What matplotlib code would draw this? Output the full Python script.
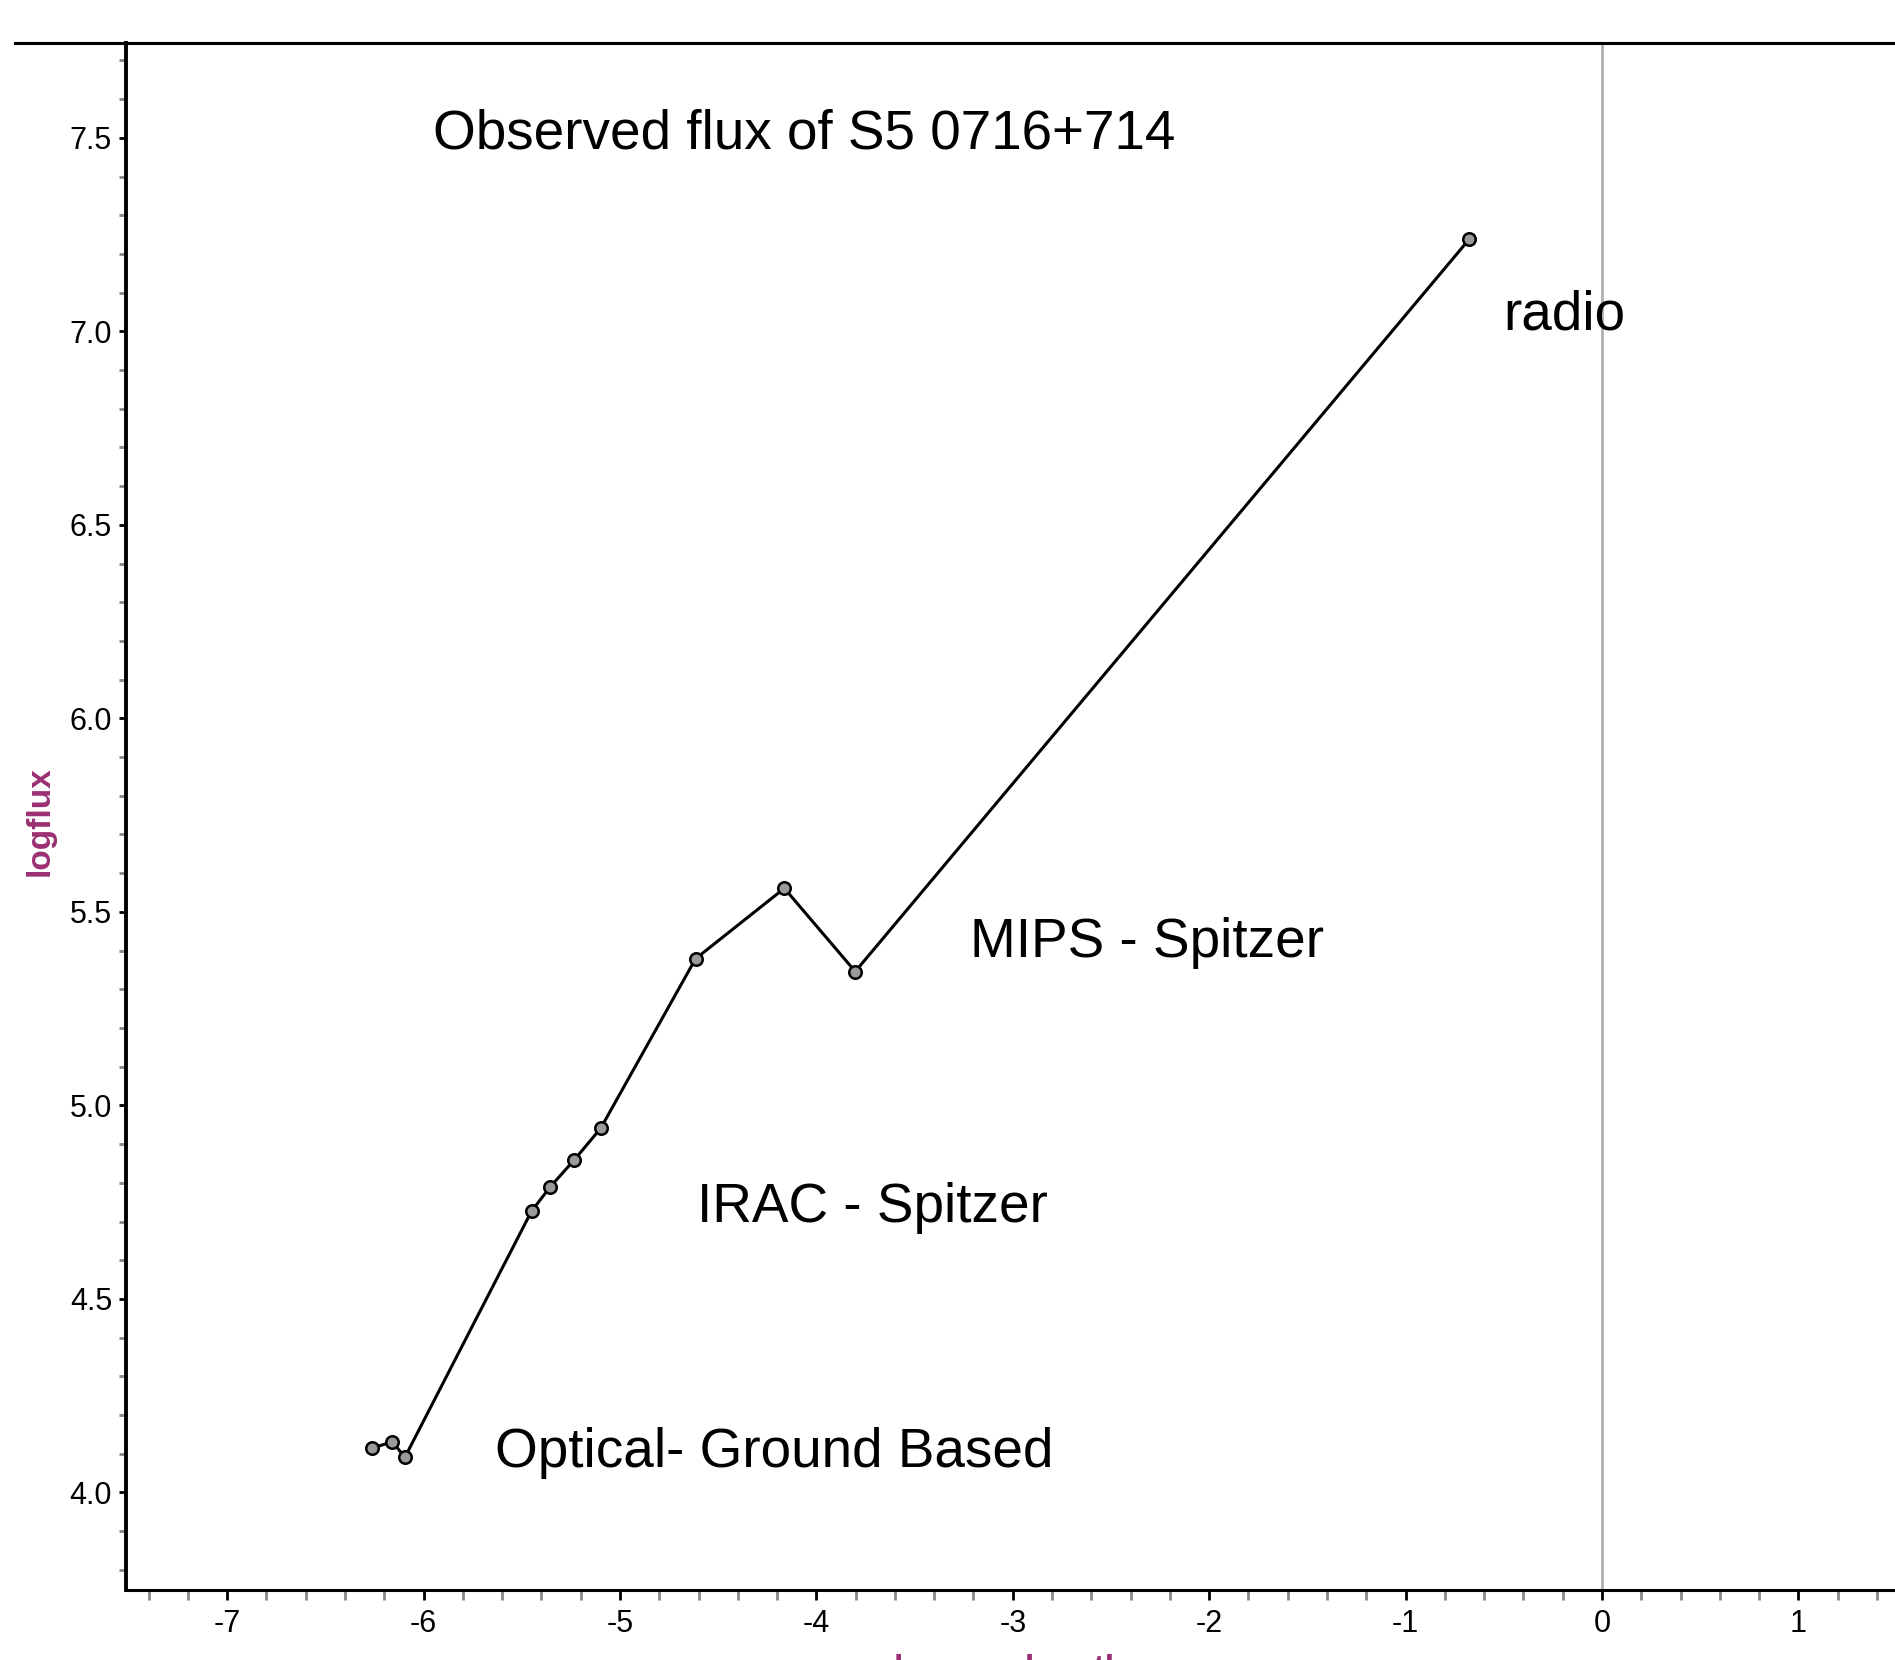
import matplotlib
matplotlib.use("Agg")
import matplotlib.pyplot as plt
from matplotlib.ticker import MultipleLocator, FormatStrFormatter
from matplotlib.lines import Line2D

# values
logwavelength = [-6.264, -6.159, -6.095, -5.450, -5.356, -5.233, -5.098,
                 -4.615, -4.163, -3.802, -0.676]
logflux = [4.114, 4.131, 4.091, 4.727, 4.789, 4.859, 4.941,
           5.379, 5.561, 5.346, 7.238]

title = "Observed flux of S5 0716+714"
band_labels = ["radio", "MIPS - Spitzer", "IRAC - Spitzer", "Optical- Ground Based"]

plt.rcParams['font.family'] = ['Liberation Sans', 'DejaVu Sans']
plt.rcParams['axes.unicode_minus'] = False

W, H = 1895, 1660
fig = plt.figure(figsize=(W / 100, H / 100), dpi=100)

left, bottom, top = 126, 1590, 43
ax = fig.add_axes([left / W, (H - bottom) / H, (W - left) / W, (bottom - top) / H])

ax.set_xlim(-7.515, 1.492)
ax.set_ylim(3.748, 7.745)

ax.axvline(0, color='#b0b0b0', lw=2, zorder=1)

ax.plot(logwavelength, logflux, color='black', lw=2.2, marker='o', markersize=9,
        markerfacecolor='#9a9a9a', markeredgecolor='black', markeredgewidth=1.8, zorder=3)

big = 39.5
ax.text(-5.952, 7.509, title, fontsize=big, va='center', ha='left')
ax.text(-0.504, 7.040, band_labels[0], fontsize=big, va='center', ha='left')
ax.text(-3.218, 5.420, band_labels[1], fontsize=big, va='center', ha='left')
ax.text(-4.608, 4.735, band_labels[2], fontsize=big, va='center', ha='left')
ax.text(-5.636, 4.102, band_labels[3], fontsize=big, va='center', ha='left')

for s in ['top', 'right']:
    ax.spines[s].set_visible(False)
ax.spines['left'].set_linewidth(2.8)
ax.spines['bottom'].set_linewidth(2.2)

ax.xaxis.set_major_locator(MultipleLocator(1))
ax.xaxis.set_minor_locator(MultipleLocator(0.2))
ax.yaxis.set_major_locator(MultipleLocator(0.5))
ax.yaxis.set_minor_locator(MultipleLocator(0.1))
ax.yaxis.set_major_formatter(FormatStrFormatter('%.1f'))

ax.tick_params(axis='x', which='major', length=7, width=2, color='black', pad=7, labelsize=22)
ax.tick_params(axis='x', which='minor', length=7, width=2, color='#888888')
ax.tick_params(axis='y', which='major', length=5, width=2, color='black', pad=5, labelsize=22)
ax.tick_params(axis='y', which='minor', length=5, width=2, color='#888888')

# line along the top of the picture
fig.add_artist(Line2D([15 / W, 1.0], [1 - 43 / H, 1 - 43 / H], color='black', lw=2.2,
                      transform=fig.transFigure))

purple = '#9b2f72'
fig.text(40 / W, 1 - 821 / H, "logflux", rotation=90, color=purple, fontsize=24,
         fontweight='bold', ha='center', va='center')
# the reference crops this label at the bottom edge
fig.text(1010 / W, 1 - 1654 / H, "logwavelength", color=purple, fontsize=24,
         fontweight='bold', ha='center', va='top')

fig.savefig("out.png", dpi=100)
